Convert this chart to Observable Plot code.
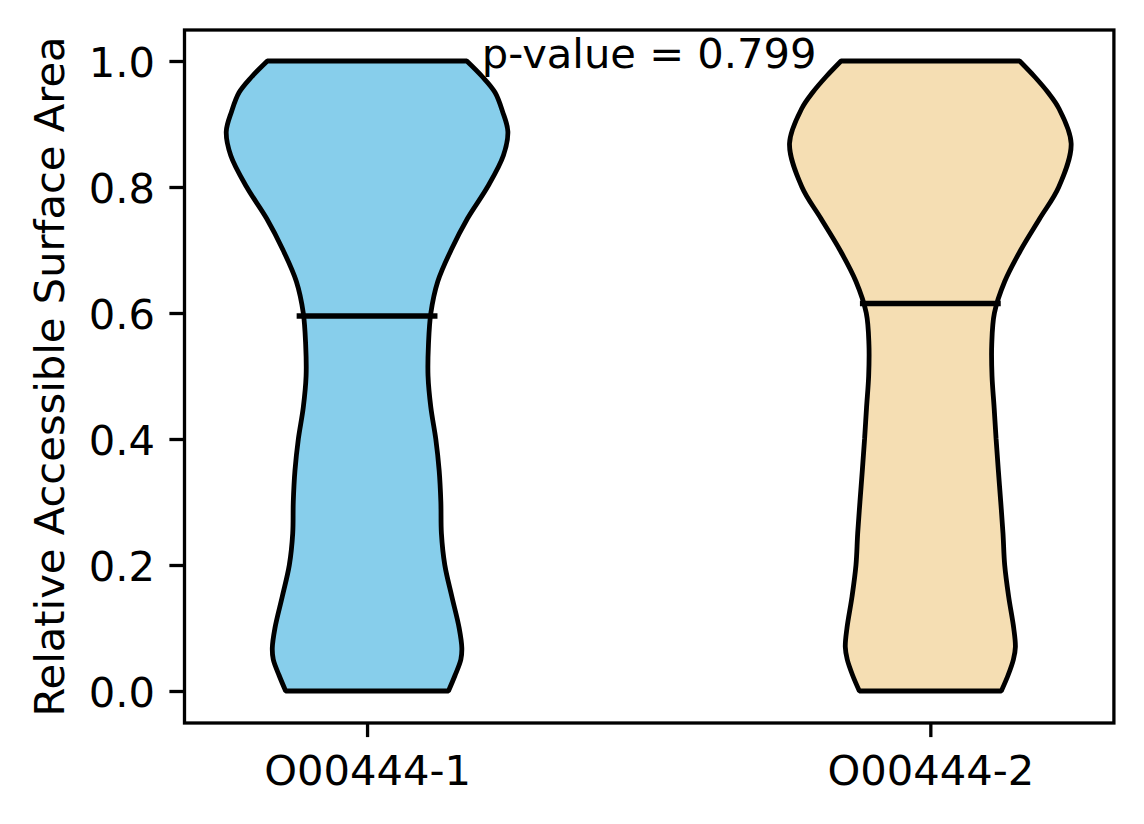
<!DOCTYPE html>
<html><head><meta charset="utf-8">
<script src="https://cdn.jsdelivr.net/npm/d3@7"></script>
<script src="https://cdn.jsdelivr.net/npm/@observablehq/plot@0.6"></script>
<style>html,body{margin:0;padding:0;background:#fff;} svg{display:block}</style>
</head><body><div id="chart"></div>
<script>
const categories = ["O00444-1", "O00444-2"];
const yTicks = [0, 0.2, 0.4, 0.6, 0.8, 1.0];
const yLabel = "Relative Accessible Surface Area";
const pValueText = "p-value = 0.799";

// Violin 1 (O00444-1): RSA grid and relative density (normalized to its max)
const rsa1  = [0, 0.025, 0.05, 0.068, 0.10, 0.15, 0.20, 0.25, 0.30, 0.35, 0.40, 0.45, 0.50, 0.55, 0.60, 0.65, 0.70, 0.75, 0.80, 0.85, 0.888, 0.92, 0.95, 0.975, 1.0];
const dens1 = [0.578, 0.625, 0.666, 0.673, 0.654, 0.602, 0.552, 0.528, 0.524, 0.512, 0.488, 0.453, 0.433, 0.436, 0.453, 0.502, 0.597, 0.713, 0.855, 0.968, 1.0, 0.962, 0.909, 0.819, 0.708];

// Violin 2 (O00444-2)
const rsa2  = [0, 0.025, 0.05, 0.07, 0.10, 0.15, 0.20, 0.25, 0.30, 0.35, 0.40, 0.45, 0.50, 0.55, 0.60, 0.65, 0.70, 0.75, 0.80, 0.869, 0.925, 0.95, 0.975, 1.0];
const dens2 = [0.504, 0.552, 0.590, 0.604, 0.592, 0.556, 0.528, 0.516, 0.500, 0.483, 0.467, 0.453, 0.438, 0.436, 0.455, 0.528, 0.642, 0.777, 0.912, 1.0, 0.912, 0.836, 0.741, 0.634];

const medians = [0.596, 0.616];

const fills = ["#87CEEB", "#F5DEB3"];
const violinWidth = 0.5; // matplotlib default widths

const positions = categories.map((c, i) => i + 1);
function table(rsa, dens, i) {
  return rsa.map((v, j) => ({group: categories[i], pos: positions[i], v, d: dens[j]}));
}
const t1 = table(rsa1, dens1, 0);
const t2 = table(rsa2, dens2, 1);

function violin(data, fill) {
  return Plot.areaX(data, {
    y: "v",
    x1: r => r.pos - violinWidth / 2 * r.d,
    x2: r => r.pos + violinWidth / 2 * r.d,
    fill, stroke: "black", strokeWidth: 4.8, strokeLinejoin: "miter", curve: "catmull-rom"
  });
}

const fontSize = 41.67;
const chart = Plot.plot({
  width: 1144, height: 824,
  marginLeft: 184, marginRight: 30.6, marginTop: 29.5, marginBottom: 101.5,
  style: {fontFamily: "DejaVu Sans", fontSize: fontSize + "px", background: "white", color: "black"},
  x: {domain: [0.675, 2.325]},
  y: {domain: [-0.05, 1.05]},
  marks: [
    violin(t1, fills[0]),
    violin(t2, fills[1]),
    Plot.ruleY(medians, {
      y: d => d,
      x1: (d, i) => positions[i] - violinWidth / 4,
      x2: (d, i) => positions[i] + violinWidth / 4,
      stroke: "black", strokeWidth: 5.5
    }),
    Plot.frame({stroke: "black", strokeWidth: 3.3}),
    Plot.axisY({ticks: yTicks, tickSize: 14.6, strokeWidth: 3.3, tickFormat: () => "", label: null}),
    Plot.axisY({ticks: yTicks, tickSize: 0, tickPadding: 29.6, dy: 2.5, tickFormat: d => d.toFixed(1), label: null}),
    Plot.axisX({ticks: positions, tickSize: 14.6, tickPadding: 18, strokeWidth: 3.3, tickFormat: d => categories[d - 1], label: null}),
    Plot.text([yLabel], {frameAnchor: "left", dx: -121, rotate: -90, textAnchor: "middle", lineAnchor: "bottom", text: d => d}),
    Plot.text([pValueText], {x: (positions[0] + positions[1]) / 2, y: 0.99, text: d => d, textAnchor: "middle", lineAnchor: "bottom"})
  ]
});
document.getElementById("chart").appendChild(chart);
</script>
</body></html>
